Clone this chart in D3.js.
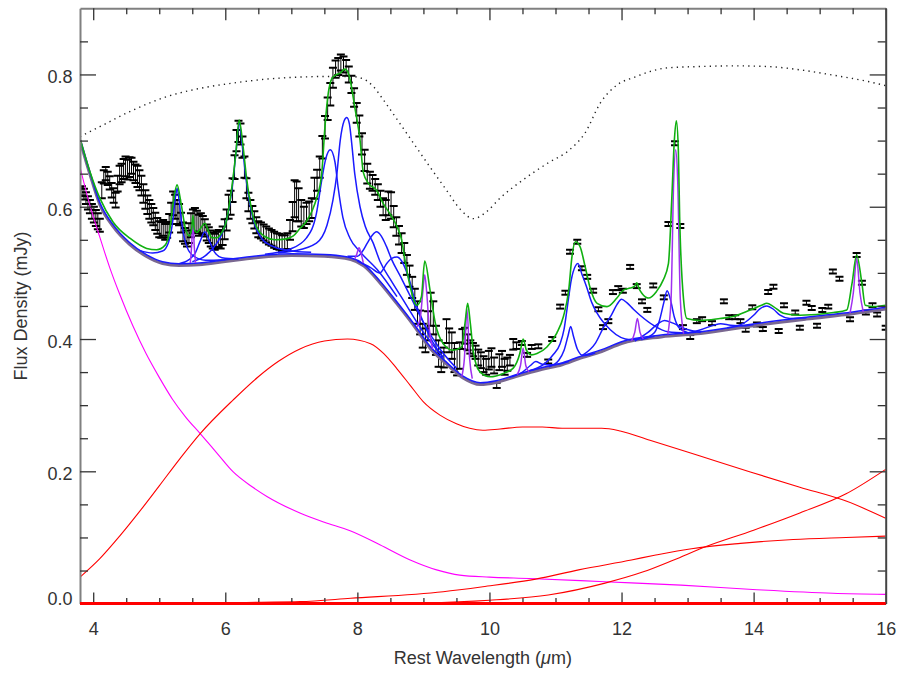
<!DOCTYPE html>
<html><head><meta charset="utf-8">
<script src="https://cdn.jsdelivr.net/npm/d3@7"></script>
<style>body{margin:0;background:#fff}text{font-family:"Liberation Sans",Arial,Helvetica,sans-serif}</style>
</head><body>
<svg id="c" width="898" height="673"></svg>
<script>
// ---------------- DATA ----------------
const xTicks = [4, 6, 8, 10, 12, 14, 16];
const yTicks = [0.0, 0.2, 0.4, 0.6, 0.8];
const xTitle = "Rest Wavelength (";
const yTitle = "Flux Density (mJy)";

// observed spectrum (µm, mJy, 1-sigma)
const dataWave = [3.80,3.83,3.86,3.89,3.92,3.95,3.98,4.01,4.04,4.07,4.10,4.13,4.16,4.19,4.22,4.25,4.28,4.31,4.34,4.37,4.40,4.43,4.46,4.49,4.52,4.55,4.58,4.61,4.64,4.67,4.70,4.73,4.76,4.79,4.82,4.85,4.88,4.91,4.94,4.97,5.00,5.03,5.06,5.09,5.12,5.15,5.18,5.21,5.24,5.27,5.30,5.33,5.36,5.39,5.42,5.45,5.48,5.51,5.54,5.57,5.60,5.63,5.66,5.69,5.72,5.75,5.78,5.81,5.84,5.87,5.90,5.93,5.96,5.99,6.02,6.05,6.08,6.11,6.14,6.17,6.20,6.23,6.26,6.29,6.32,6.35,6.38,6.41,6.44,6.47,6.50,6.54,6.58,6.62,6.66,6.70,6.74,6.78,6.82,6.86,6.90,6.94,6.98,7.02,7.05,7.08,7.11,7.15,7.19,7.23,7.27,7.31,7.35,7.39,7.43,7.47,7.51,7.55,7.59,7.63,7.67,7.71,7.75,7.79,7.83,7.87,7.91,7.95,7.99,8.03,8.07,8.11,8.15,8.19,8.23,8.27,8.31,8.35,8.39,8.43,8.47,8.51,8.55,8.59,8.63,8.67,8.71,8.75,8.79,8.83,8.87,8.91,8.95,8.99,9.03,9.07,9.11,9.15,9.19,9.23,9.27,9.31,9.35,9.39,9.43,9.47,9.51,9.55,9.59,9.63,9.67,9.71,9.75,9.79,9.83,9.87,9.91,9.95,9.99,10.03,10.07,10.11,10.15,10.19,10.23,10.27,10.31,10.36,10.41,
10.49,10.57,10.64,10.74,10.89,10.95,11.07,11.15,11.22,11.33,11.40,11.48,11.57,11.65,11.72,11.80,11.87,11.95,12.02,12.13,12.23,12.31,12.39,12.48,12.64,12.71,12.81,12.89,12.93,13.04,13.14,13.22,13.37,13.55,13.63,13.72,13.80,13.88,13.98,14.05,14.14,14.22,14.30,14.38,14.46,14.63,14.70,14.80,14.88,14.96,15.04,15.13,15.20,15.30,15.46,15.56,15.64,15.70,15.80,15.87,16.00];
const dataFlux = [0.622,0.624,0.619,0.613,0.606,0.600,0.593,0.588,0.583,0.578,0.572,0.625,0.645,0.650,0.643,0.636,0.625,0.617,0.610,0.635,0.648,0.651,0.657,0.661,0.656,0.660,0.662,0.654,0.650,0.646,0.640,0.632,0.620,0.611,0.603,0.596,0.590,0.585,0.578,0.571,0.566,0.565,0.568,0.562,0.565,0.575,0.590,0.605,0.600,0.592,0.588,0.576,0.562,0.556,0.552,0.560,0.572,0.578,0.580,0.578,0.572,0.575,0.572,0.568,0.561,0.557,0.552,0.549,0.547,0.550,0.552,0.550,0.556,0.566,0.580,0.600,0.606,0.625,0.660,0.700,0.714,0.710,0.690,0.660,0.628,0.607,0.596,0.588,0.580,0.572,0.566,0.564,0.561,0.558,0.555,0.553,0.550,0.548,0.547,0.545,0.545,0.548,0.565,0.585,0.612,0.608,0.603,0.590,0.584,0.590,0.593,0.598,0.628,0.640,0.660,0.690,0.720,0.748,0.770,0.795,0.808,0.812,0.818,0.815,0.810,0.800,0.785,0.765,0.742,0.722,0.695,0.670,0.650,0.640,0.636,0.630,0.622,0.612,0.600,0.595,0.605,0.602,0.585,0.570,0.557,0.545,0.530,0.512,0.495,0.478,0.460,0.440,0.425,0.405,0.398,0.420,0.445,0.432,0.398,0.378,0.365,0.372,0.412,0.398,0.390,0.372,0.365,0.375,0.400,0.405,0.395,0.388,0.384,0.380,0.372,0.368,0.362,0.358,0.368,0.372,0.360,0.330,0.365,0.370,0.358,0.362,0.368,0.392,0.390,
0.394,0.376,0.388,0.389,0.366,0.400,0.449,0.470,0.532,0.547,0.507,0.494,0.473,0.445,0.418,0.427,0.471,0.477,0.473,0.509,0.480,0.457,0.444,0.481,0.463,0.574,0.696,0.571,0.418,0.403,0.427,0.430,0.424,0.457,0.433,0.433,0.427,0.414,0.448,0.422,0.415,0.471,0.479,0.412,0.451,0.440,0.417,0.455,0.447,0.420,0.444,0.449,0.502,0.491,0.430,0.527,0.485,0.440,0.451,0.437,0.417];
const dataErr = [0.006,0.007,0.008,0.009,0.010,0.010,0.011,0.012,0.012,0.012,0.010,0.012,0.010,0.010,0.010,0.010,0.011,0.011,0.011,0.012,0.014,0.014,0.015,0.015,0.015,0.015,0.012,0.014,0.014,0.016,0.015,0.015,0.014,0.014,0.014,0.014,0.014,0.013,0.013,0.012,0.012,0.012,0.012,0.012,0.012,0.014,0.016,0.018,0.018,0.018,0.016,0.015,0.014,0.012,0.012,0.015,0.018,0.018,0.018,0.016,0.016,0.015,0.014,0.013,0.012,0.012,0.012,0.012,0.012,0.012,0.013,0.013,0.014,0.015,0.016,0.018,0.018,0.018,0.018,0.016,0.016,0.016,0.016,0.016,0.015,0.014,0.014,0.013,0.013,0.012,0.012,0.012,0.012,0.012,0.012,0.012,0.012,0.012,0.012,0.012,0.012,0.012,0.015,0.022,0.028,0.030,0.025,0.020,0.016,0.016,0.015,0.015,0.016,0.016,0.016,0.017,0.017,0.017,0.017,0.015,0.013,0.013,0.012,0.012,0.012,0.012,0.013,0.014,0.015,0.016,0.016,0.016,0.015,0.013,0.012,0.012,0.012,0.012,0.013,0.015,0.018,0.020,0.016,0.014,0.014,0.015,0.015,0.015,0.016,0.016,0.016,0.017,0.018,0.018,0.018,0.022,0.025,0.025,0.022,0.020,0.015,0.015,0.018,0.018,0.020,0.022,0.020,0.020,0.015,0.012,0.012,0.010,0.010,0.010,0.012,0.012,0.012,0.012,0.014,0.014,0.012,0.004,0.012,0.012,0.012,0.010,0.008,0.008,0.005,
0.003,0.003,0.003,0.003,0.003,0.003,0.003,0.003,0.003,0.003,0.003,0.003,0.003,0.003,0.003,0.003,0.003,0.003,0.003,0.003,0.003,0.003,0.003,0.003,0.003,0.003,0.003,0.003,0.003,0.003,0.003,0.003,0.003,0.003,0.003,0.003,0.003,0.003,0.003,0.003,0.003,0.003,0.003,0.003,0.003,0.003,0.003,0.003,0.003,0.003,0.003,0.003,0.003,0.003,0.003,0.003,0.003,0.003,0.003,0.003,0.003];

// total model (green)
const modelTotal = [[3.80,0.703],[3.95,0.653],[4.10,0.613],[4.30,0.577],[4.56,0.552],[4.81,0.537],[4.96,0.535],[5.09,0.542],[5.16,0.565],[5.21,0.605],[5.27,0.633],[5.33,0.605],[5.39,0.570],[5.45,0.556],[5.49,0.566],[5.51,0.587],[5.53,0.566],[5.57,0.561],[5.63,0.568],[5.69,0.575],[5.75,0.562],[5.80,0.553],[5.87,0.553],[5.92,0.557],[6.02,0.580],[6.10,0.630],[6.16,0.681],[6.21,0.731],[6.27,0.690],[6.32,0.645],[6.40,0.595],[6.48,0.568],[6.60,0.555],[6.75,0.550],[6.90,0.551],[7.03,0.556],[7.13,0.567],[7.23,0.578],[7.32,0.595],[7.38,0.612],[7.46,0.650],[7.51,0.722],[7.56,0.772],[7.61,0.793],[7.67,0.799],[7.74,0.802],[7.81,0.808],[7.85,0.805],[7.89,0.792],[7.96,0.751],[8.04,0.701],[8.09,0.652],[8.17,0.635],[8.29,0.625],[8.39,0.605],[8.49,0.590],[8.60,0.570],[8.67,0.550],[8.72,0.520],[8.80,0.479],[8.90,0.451],[8.97,0.464],[9.02,0.518],[9.10,0.474],[9.18,0.424],[9.30,0.393],[9.45,0.383],[9.58,0.388],[9.63,0.424],[9.67,0.454],[9.71,0.424],[9.76,0.378],[9.86,0.350],[10.01,0.343],[10.21,0.348],[10.36,0.356],[10.46,0.378],[10.51,0.400],[10.56,0.383],[10.64,0.376],[10.72,0.378],[10.87,0.388],[11.02,0.409],[11.12,0.434],[11.20,0.474],[11.25,0.525],[11.30,0.547],[11.37,0.540],[11.45,0.509],[11.52,0.479],[11.63,0.454],[11.78,0.449],[11.93,0.462],[12.03,0.474],[12.13,0.477],[12.20,0.480],[12.23,0.485],[12.27,0.475],[12.31,0.469],[12.41,0.462],[12.53,0.472],[12.63,0.489],[12.71,0.514],[12.76,0.610],[12.80,0.701],[12.83,0.730],[12.86,0.686],[12.88,0.585],[12.94,0.459],[12.99,0.431],[13.19,0.428],[13.49,0.431],[13.69,0.434],[13.95,0.444],[14.12,0.451],[14.20,0.454],[14.30,0.449],[14.45,0.439],[14.70,0.436],[15.21,0.440],[15.41,0.444],[15.49,0.484],[15.56,0.527],[15.64,0.484],[15.69,0.451],[15.82,0.449],[16.00,0.451]];

// total continuum
const continuum = [[3.80,0.702],[3.95,0.651],[4.10,0.605],[4.30,0.572],[4.55,0.545],[4.80,0.527],[5.05,0.516],[5.30,0.513],[5.60,0.514],[6.00,0.519],[6.50,0.525],[7.00,0.528],[7.50,0.527],[7.90,0.522],[8.10,0.512],[8.34,0.487],[8.60,0.455],[8.84,0.424],[9.10,0.388],[9.36,0.363],[9.60,0.343],[9.86,0.333],[10.10,0.336],[10.40,0.345],[10.80,0.356],[11.10,0.363],[11.35,0.372],[11.70,0.383],[12.00,0.395],[12.60,0.405],[13.20,0.410],[14.00,0.422],[14.80,0.432],[15.50,0.440],[16.00,0.447]];

// dust features (continuum + Drude), blue
const feat527 = [[4.70,0.534],[4.90,0.530],[5.05,0.533],[5.14,0.546],[5.20,0.575],[5.24,0.610],[5.27,0.628],[5.30,0.610],[5.34,0.575],[5.40,0.545],[5.50,0.527],[5.70,0.519],[6.00,0.520]];
const feat570 = [[5.30,0.514],[5.45,0.520],[5.55,0.531],[5.62,0.548],[5.69,0.562],[5.76,0.548],[5.84,0.531],[5.95,0.523],[6.20,0.521]];
const feat622 = [[5.50,0.517],[5.70,0.526],[5.82,0.538],[5.92,0.553],[6.02,0.580],[6.10,0.625],[6.16,0.680],[6.21,0.726],[6.26,0.690],[6.31,0.645],[6.37,0.605],[6.45,0.572],[6.55,0.552],[6.70,0.541],[6.95,0.534],[7.30,0.531]];
const feat760 = [[6.60,0.528],[6.98,0.536],[7.23,0.553],[7.38,0.590],[7.46,0.640],[7.52,0.672],[7.59,0.686],[7.66,0.668],[7.71,0.628],[7.78,0.584],[7.89,0.552],[8.04,0.532],[8.30,0.505],[8.60,0.464]];
const feat785 = [[6.80,0.530],[7.03,0.533],[7.38,0.545],[7.54,0.572],[7.63,0.610],[7.69,0.650],[7.74,0.700],[7.80,0.730],[7.84,0.735],[7.88,0.725],[7.91,0.700],[7.96,0.650],[8.04,0.600],[8.12,0.570],[8.24,0.545],[8.34,0.518],[8.50,0.490],[8.70,0.458],[9.00,0.410],[9.30,0.372]];
const feat833 = [[7.85,0.525],[8.00,0.525],[8.08,0.533],[8.15,0.545],[8.22,0.556],[8.29,0.562],[8.36,0.556],[8.44,0.540],[8.52,0.520],[8.65,0.495],[8.80,0.465],[9.00,0.425],[9.25,0.385],[9.50,0.356]];
const feat861 = [[8.00,0.518],[8.20,0.508],[8.34,0.500],[8.45,0.515],[8.52,0.522],[8.60,0.524],[8.67,0.518],[8.74,0.503],[8.80,0.485],[8.88,0.455],[8.98,0.430],[9.10,0.403],[9.30,0.372]];
const feat1068 = [[10.30,0.342],[10.50,0.350],[10.62,0.360],[10.70,0.366],[10.80,0.362],[10.95,0.361],[11.20,0.366]];
const feat1123 = [[10.90,0.358],[11.05,0.368],[11.13,0.383],[11.19,0.405],[11.23,0.419],[11.27,0.405],[11.33,0.385],[11.42,0.375],[11.60,0.379]];
const feat1133 = [[10.60,0.352],[10.85,0.364],[10.97,0.377],[11.07,0.393],[11.13,0.415],[11.18,0.449],[11.24,0.490],[11.30,0.510],[11.34,0.514],[11.40,0.498],[11.47,0.479],[11.55,0.455],[11.63,0.439],[11.83,0.414],[12.13,0.399],[12.50,0.404]];
const feat1199 = [[11.40,0.375],[11.60,0.393],[11.73,0.418],[11.85,0.437],[11.93,0.452],[12.00,0.460],[12.08,0.455],[12.18,0.445],[12.28,0.436],[12.48,0.421],[12.70,0.411],[13.00,0.409]];
const feat1262 = [[12.30,0.399],[12.50,0.410],[12.58,0.430],[12.64,0.455],[12.69,0.473],[12.74,0.460],[12.80,0.433],[12.88,0.416],[13.00,0.410]];
const feat1269 = [[12.20,0.397],[12.40,0.410],[12.55,0.423],[12.65,0.428],[12.78,0.424],[12.95,0.416],[13.20,0.410]];
const feat1348 = [[13.00,0.409],[13.20,0.414],[13.40,0.421],[13.50,0.423],[13.65,0.421],[13.85,0.420],[14.00,0.422]];
const feat1419 = [[13.60,0.417],[13.85,0.424],[14.00,0.436],[14.10,0.446],[14.20,0.450],[14.30,0.445],[14.40,0.436],[14.55,0.431],[14.80,0.432]];

// emission lines (continuum + Gaussian), purple
const line551 = [[5.47,0.515],[5.49,0.540],[5.51,0.578],[5.53,0.540],[5.55,0.515]];
const line803 = [[7.96,0.521],[7.99,0.528],[8.025,0.538],[8.06,0.528],[8.09,0.515]];
const line899 = [[8.90,0.418],[8.95,0.430],[8.99,0.470],[9.02,0.497],[9.05,0.470],[9.09,0.415],[9.14,0.385]];
const line966 = [[9.58,0.343],[9.62,0.370],[9.66,0.445],[9.70,0.370],[9.74,0.340]];
const line1051 = [[10.42,0.346],[10.47,0.360],[10.51,0.386],[10.55,0.360],[10.60,0.350]];
const line1228 = [[12.15,0.397],[12.20,0.410],[12.24,0.431],[12.28,0.410],[12.33,0.400]];
const line1281 = [[12.70,0.407],[12.75,0.460],[12.79,0.640],[12.82,0.686],[12.85,0.640],[12.89,0.460],[12.94,0.408]];
const line1556 = [[15.46,0.439],[15.51,0.470],[15.56,0.522],[15.61,0.470],[15.66,0.441]];

// starlight (magenta)
const stellar = [[3.80,0.660],[3.95,0.602],[4.10,0.554],[4.25,0.508],[4.40,0.468],[4.60,0.420],[4.80,0.378],[5.00,0.342],[5.20,0.309],[5.40,0.282],[5.62,0.257],[5.87,0.228],[6.12,0.199],[6.40,0.177],[6.63,0.162],[7.13,0.137],[7.50,0.123],[7.89,0.110],[8.34,0.089],[8.80,0.066],[9.20,0.051],[9.55,0.043],[10.00,0.040],[10.60,0.038],[11.75,0.033],[12.90,0.028],[14.05,0.021],[15.20,0.0156],[16.00,0.014]];

// dust continua (red)
const dustWarm = [[3.80,0.040],[4.10,0.068],[4.40,0.102],[4.70,0.139],[5.00,0.178],[5.32,0.220],[5.62,0.257],[6.12,0.308],[6.50,0.343],[6.80,0.366],[7.13,0.385],[7.50,0.397],[7.85,0.400],[8.20,0.393],[8.40,0.378],[8.60,0.355],[8.80,0.330],[9.00,0.305],[9.25,0.285],[9.50,0.272],[9.70,0.265],[9.90,0.262],[10.16,0.264],[10.50,0.267],[10.80,0.267],[11.10,0.265],[11.70,0.265],[11.98,0.261],[12.43,0.247],[13.19,0.223],[13.95,0.199],[14.70,0.176],[15.40,0.155],[16.00,0.129]];
const dustMid = [[3.80,0.0],[5.50,0.0],[6.50,0.002],[7.13,0.003],[7.90,0.008],[9.30,0.018],[9.90,0.0255],[10.70,0.037],[11.35,0.051],[12.15,0.066],[12.50,0.073],[13.06,0.083],[13.80,0.091],[14.60,0.097],[15.40,0.100],[16.00,0.102]];
const dustCool = [[3.80,0.0],[8.00,0.0],[9.00,0.001],[10.00,0.005],[10.89,0.013],[11.75,0.031],[12.33,0.048],[12.79,0.066],[13.27,0.086],[14.00,0.111],[14.70,0.137],[15.40,0.166],[16.00,0.203]];
const dustCold = [[3.80,0.0],[16.00,0.0]];

// extinction curve, scaled (dotted)
const extinction = [[3.80,0.706],[4.10,0.721],[4.60,0.746],[5.10,0.766],[5.62,0.779],[6.12,0.787],[6.63,0.793],[7.13,0.796],[7.60,0.797],[7.89,0.797],[8.04,0.795],[8.24,0.782],[8.39,0.762],[8.65,0.725],[8.85,0.696],[9.10,0.660],[9.35,0.625],[9.55,0.597],[9.76,0.582],[9.95,0.592],[10.16,0.613],[10.50,0.640],[10.90,0.667],[11.20,0.685],[11.45,0.712],[11.68,0.757],[11.93,0.784],[12.20,0.796],[12.45,0.805],[12.70,0.810],[13.20,0.812],[13.70,0.813],[14.20,0.812],[14.70,0.807],[15.20,0.799],[15.70,0.790],[16.00,0.783]];

// ---------------- DRAW ----------------
const L = 80, R = 885.7, T = 8.3, B = 603.6;
const x = d3.scaleLinear().domain([3.8, 16]).range([L, R]);
const y = d3.scaleLinear().domain([0, 0.9]).range([B, T]);
const svg = d3.select("#c");

svg.append("defs").append("clipPath").attr("id", "clip")
  .append("rect").attr("x", L).attr("y", T).attr("width", R - L).attr("height", B - T + 3);

const plot = svg.append("g").attr("clip-path", "url(#clip)");
const line = d3.line().x(d => x(d[0])).y(d => y(d[1])).curve(d3.curveMonotoneX);

function draw(pts, color, w, dash, dy) {
  const p = plot.append("path").datum(pts).attr("d", line)
    .attr("fill", "none").attr("stroke", color).attr("stroke-width", w)
    .attr("stroke-linejoin", "round");
  if (dash) p.attr("stroke-dasharray", dash);
  if (dy) p.attr("transform", `translate(0,${dy})`);
  return p;
}

// data with error bars
const data = dataWave.map((w, i) => ({w, f: dataFlux[i], e: dataErr[i]}));
const eg = plot.append("g");
eg.selectAll("line.v").data(data).join("line").attr("class", "v")
  .attr("x1", d => x(d.w)).attr("x2", d => x(d.w))
  .attr("y1", d => y(d.f - d.e)).attr("y2", d => y(d.f + d.e))
  .attr("stroke", "#000").attr("stroke-width", 1);
["lo", "hi"].forEach(k => {
  eg.selectAll("line." + k).data(data).join("line").attr("class", k)
    .attr("x1", d => x(d.w) - 4).attr("x2", d => x(d.w) + 4)
    .attr("y1", d => y(k === "lo" ? d.f - d.e : d.f + d.e))
    .attr("y2", d => y(k === "lo" ? d.f - d.e : d.f + d.e))
    .attr("stroke", "#000").attr("stroke-width", 2);
});

// model components
draw(extinction, "#222", 1.4, "1.3,4.2");
draw(stellar, "#ff00ff", 1.1);
draw(dustWarm, "#ff0000", 1.1);
draw(dustMid, "#ff0000", 1.1);
draw(dustCool, "#ff0000", 1.1);
draw(dustCold, "#ff0000", 3);

draw(continuum, "#7a6890", 3, null, 1.2);
draw(continuum, "#1a1aff", 1.5, null, -0.6);
[feat527, feat570, feat622, feat760, feat785, feat833, feat861, feat1068, feat1123, feat1133, feat1199, feat1262, feat1269, feat1348, feat1419]
  .forEach(f => draw(f, "#1a1aff", 1.5));
[line551, line803, line899, line966, line1051, line1228, line1281, line1556]
  .forEach(f => draw(f, "#a030f0", 1.5));
draw(modelTotal, "#10b010", 1.6);

// axes
const xMinor = d3.range(4, 16.01, 0.5).filter(v => Math.abs(v % 2) > 0.01);
const yMinor = d3.range(0.05, 0.9, 0.05).filter(v => Math.abs((v * 10) % 2) > 0.05 && Math.abs((v*10)%2 - 2) > 0.05);

function styleAxis(g, domainColor, domainW) {
  g.select(".domain").attr("stroke", domainColor).attr("stroke-width", domainW);
  g.selectAll(".tick line").attr("stroke", "#333").attr("stroke-width", 1.3);
  g.selectAll("text").attr("fill", "#333").style("font-size", "18px")
    .style("font-family", '"Liberation Sans", Arial, sans-serif');
}

const gB = svg.append("g").attr("transform", `translate(0,${B})`)
  .call(d3.axisBottom(x).tickValues(xTicks).tickSize(-11).tickSizeOuter(0).tickPadding(19).tickFormat(d3.format("d")));
styleAxis(gB, "#333", 1.5);
const gBm = svg.append("g").attr("transform", `translate(0,${B})`)
  .call(d3.axisBottom(x).tickValues(xMinor).tickSize(-5.5).tickSizeOuter(0).tickFormat(""));
styleAxis(gBm, "none", 0);

const gT = svg.append("g").attr("transform", `translate(0,${T})`)
  .call(d3.axisTop(x).tickValues(xTicks).tickSize(-12).tickSizeOuter(0).tickFormat(""));
styleAxis(gT, "#808080", 2);
const gTm = svg.append("g").attr("transform", `translate(0,${T})`)
  .call(d3.axisTop(x).tickValues(xMinor).tickSize(-6).tickSizeOuter(0).tickFormat(""));
styleAxis(gTm, "none", 0);

const gL = svg.append("g").attr("transform", `translate(${L},0)`)
  .call(d3.axisLeft(y).tickValues(yTicks).tickSize(-16).tickSizeOuter(0).tickPadding(7.5).tickFormat(d3.format(".1f")));
styleAxis(gL, "#808080", 2);
gL.selectAll(".tick text").attr("dy", d => d === 0 ? "0.05em" : "0.47em");
const gLm = svg.append("g").attr("transform", `translate(${L},0)`)
  .call(d3.axisLeft(y).tickValues(yMinor).tickSize(-8).tickSizeOuter(0).tickFormat(""));
styleAxis(gLm, "none", 0);

const gR = svg.append("g").attr("transform", `translate(${R},0)`)
  .call(d3.axisRight(y).tickValues(yTicks).tickSize(-16).tickSizeOuter(0).tickFormat(""));
styleAxis(gR, "#444", 2);
const gRm = svg.append("g").attr("transform", `translate(${R},0)`)
  .call(d3.axisRight(y).tickValues(yMinor).tickSize(-8).tickSizeOuter(0).tickFormat(""));
styleAxis(gRm, "none", 0);

// redraw zero red line over bottom axis
svg.append("path").datum(dustCold).attr("d", line).attr("fill", "none")
  .attr("stroke", "#ff0000").attr("stroke-width", 3);

// titles
const xt = svg.append("text").attr("x", (L + R) / 2).attr("y", 664)
  .attr("text-anchor", "middle").attr("fill", "#333").style("font-size", "18px")
  .text(xTitle);
xt.append("tspan").style("font-style", "italic").text("\u03bc");
xt.append("tspan").text("m)");

svg.append("text").attr("transform", `translate(27,${(T + B) / 2}) rotate(-90)`)
  .attr("text-anchor", "middle").attr("fill", "#333").style("font-size", "18px")
  .text(yTitle);
</script>
</body></html>
